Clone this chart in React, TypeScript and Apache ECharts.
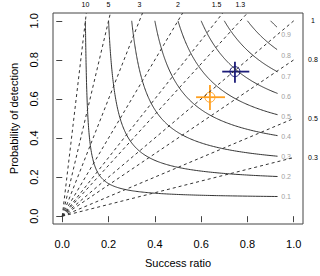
import React, { useEffect, useRef } from "react";
import * as echarts from "echarts";

// CSI isopleth levels (solid lines, grey labels at right end)
const csiLevels = [0.1, 0.2, 0.3, 0.4, 0.5, 0.6, 0.7, 0.8, 0.9];
// Frequency bias levels (dashed lines)
const biasTop = [10, 5, 3, 2, 1.5, 1.3];
const biasRight = [1, 0.8, 0.5, 0.3];
// Axis ticks
const xTicks = [0, 0.2, 0.4, 0.6, 0.8, 1.0];
const yTicks = [0, 0.2, 0.4, 0.6, 0.8, 1.0];
// Forecast points with uncertainty ranges
const forecastColors = ["#1c1c78", "#ffa020"];
const successRatio = [0.746, 0.638];
const probDetection = [0.74, 0.609];
const srLow = [0.691, 0.578];
const srHigh = [0.808, 0.703];
const podLow = [0.683, 0.544];
const podHigh = [0.791, 0.671];

const FONT = "'Liberation Sans', Arial, sans-serif";

function csiPod(c: number, sr: number) {
  return 1 / (1 / c + 1 - 1 / sr);
}

export default function App() {
  const ref = useRef<HTMLDivElement>(null);
  useEffect(() => {
    const chart = echarts.init(ref.current!, null, { renderer: "svg" });
    const srEnd = 0.93;
    const csiSeries = csiLevels.map((c) => {
      const pts: number[][] = [];
      const n = 200;
      for (let i = 0; i <= n; i++) {
        const u = i / n;
        const sr = c + (srEnd - c) * u * u * u;
        pts.push([sr, csiPod(c, sr)]);
      }
      return {
        type: "line",
        data: pts,
        showSymbol: false,
        symbol: "none",
        silent: true,
        clip: false,
        lineStyle: { color: "#333", width: 1 },
      };
    });
    const allBias = [...biasTop, ...biasRight];
    const biasSeries = allBias.map((b) => {
      let endSr = 1.04 / b;
      let endPod = 1.04;
      if (endSr > 1) {
        endSr = 1;
        endPod = b;
      }
      return {
        type: "line",
        data: [
          [0, 0],
          [endSr, endPod],
        ],
        showSymbol: false,
        symbol: "none",
        silent: true,
        clip: false,
        lineStyle: { color: "#333", width: 1, type: [3, 3] },
      };
    });
    const csiLabelSr = 0.967;
    // label rows: [x, y, text, kind] kind 0 = grey CSI label, 1 = black bias label
    const labelRows: any[] = [
      ...csiLevels.map((c) => [csiLabelSr, csiPod(c, csiLabelSr), String(c), 0]),
      ...biasTop.map((b) => [1 / b, 1.082, String(b), 1]),
      ...biasRight.map((b) => [1.083, b, String(b), 1]),
    ];
    const labels = {
      type: "custom",
      silent: true,
      clip: false,
      data: labelRows,
      dimensions: ["x", "y", { name: "t", type: "ordinal" }, "k"],
      renderItem: (params: any, api: any) => {
        const row = labelRows[params.dataIndex];
        const p = api.coord([row[0], row[1]]);
        const grey = row[3] === 0;
        return {
          type: "text",
          x: p[0],
          y: p[1],
          style: {
            text: row[2],
            fill: grey ? "#a0a0a0" : "#000",
            font: `7px ${FONT}`,
            align: "center",
            verticalAlign: "middle",
            backgroundColor: grey ? "#fff" : undefined,
            padding: grey ? [0, 1] : 0,
          },
        };
      },
    };
    const points = {
      type: "custom",
      silent: true,
      clip: false,
      data: successRatio.map((s, i) => [s, probDetection[i], srLow[i], srHigh[i], podLow[i], podHigh[i], i]),
      renderItem: (params: any, api: any) => {
        const x = api.value(0), y = api.value(1);
        const c = api.coord([x, y]);
        const l = api.coord([api.value(2), y]);
        const r = api.coord([api.value(3), y]);
        const b = api.coord([x, api.value(4)]);
        const t = api.coord([x, api.value(5)]);
        const col = forecastColors[api.value(6)];
        return {
          type: "group",
          children: [
            { type: "line", shape: { x1: l[0], y1: l[1], x2: r[0], y2: r[1] }, style: { stroke: col, lineWidth: 1.8 } },
            { type: "line", shape: { x1: b[0], y1: b[1], x2: t[0], y2: t[1] }, style: { stroke: col, lineWidth: 1.8 } },
            { type: "circle", shape: { cx: c[0], cy: c[1], r: 5 }, style: { fill: "none", stroke: col, lineWidth: 1 } },
          ],
        };
      },
    };
    chart.setOption({
      animation: false,
      backgroundColor: "#fff",
      grid: {
        left: 53,
        right: 17,
        top: 13,
        bottom: 52,
        show: true,
        borderColor: "#444",
        borderWidth: 1,
        backgroundColor: "transparent",
      },
      xAxis: {
        type: "value",
        min: -0.04,
        max: 1.04,
        name: "Success ratio",
        nameLocation: "middle",
        nameGap: 33,
        nameTextStyle: { fontSize: 11, fontFamily: FONT, color: "#000" },
        axisLine: { show: false },
        splitLine: { show: false },
        axisTick: { show: true, customValues: xTicks, length: 6, lineStyle: { color: "#444" } },
        axisLabel: {
          customValues: xTicks,
          formatter: (v: number) => v.toFixed(1),
          fontSize: 11,
          fontFamily: FONT,
          color: "#000",
          margin: 14,
        },
      },
      yAxis: {
        type: "value",
        min: -0.04,
        max: 1.04,
        name: "Probability of detection",
        nameLocation: "middle",
        nameGap: 34,
        nameTextStyle: { fontSize: 11, fontFamily: FONT, color: "#000" },
        axisLine: { show: false },
        splitLine: { show: false },
        axisTick: { show: true, customValues: yTicks, length: 6, lineStyle: { color: "#444" } },
        axisLabel: {
          customValues: yTicks,
          formatter: (v: number) => v.toFixed(1),
          fontSize: 11,
          fontFamily: FONT,
          color: "#000",
          rotate: 90,
          margin: 14,
        },
      },
      series: [...biasSeries, ...csiSeries, labels, points],
    });
    return () => chart.dispose();
  }, []);
  return (
    <div
      ref={ref}
      style={{ position: "fixed", left: 0, top: 0, width: 320, height: 276 }}
    />
  );
}
